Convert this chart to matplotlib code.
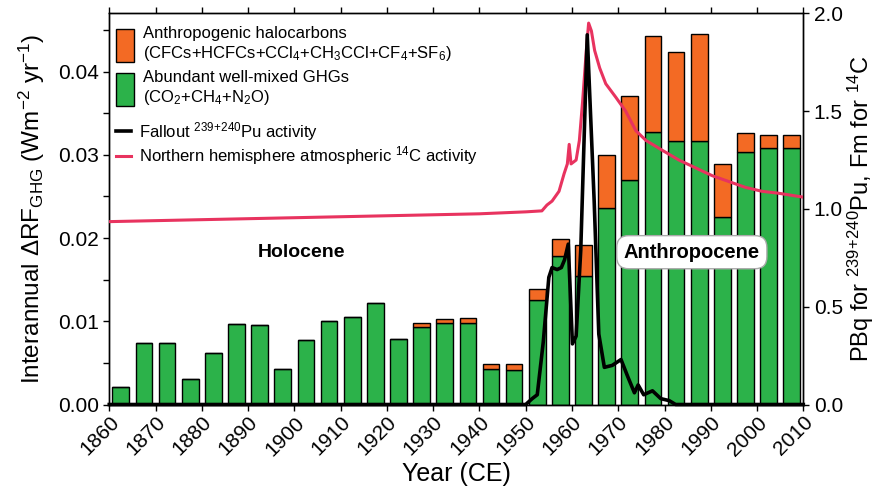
import numpy as np
import matplotlib
matplotlib.use("Agg")
from matplotlib import pyplot as plt
from matplotlib.patches import Patch
from matplotlib.lines import Line2D

plt.rcParams['font.family'] = ['Liberation Sans', 'DejaVu Sans']
plt.rcParams['mathtext.fontset'] = 'custom'
plt.rcParams['mathtext.rm'] = 'Liberation Sans'
plt.rcParams['mathtext.it'] = 'Liberation Sans:italic'
plt.rcParams['mathtext.bf'] = 'Liberation Sans:bold'

# === DATI ===
# 5-year intervals, start year of each bin
bin_start = [1860, 1865, 1870, 1875, 1880, 1885, 1890, 1895, 1900, 1905,
             1910, 1915, 1920, 1925, 1930, 1935, 1940, 1945, 1950, 1955,
             1960, 1965, 1970, 1975, 1980, 1985, 1990, 1995, 2000, 2005]
ghg = [0.0021, 0.0074, 0.0074, 0.0031, 0.0062, 0.0097, 0.0095, 0.0043, 0.0078, 0.0100,
       0.0105, 0.0122, 0.0079, 0.0093, 0.0098, 0.0098, 0.0043, 0.0041, 0.0126, 0.0178,
       0.0155, 0.0236, 0.0270, 0.0328, 0.0317, 0.0317, 0.0225, 0.0303, 0.0308, 0.0308]
total = [0.0021, 0.0074, 0.0074, 0.0031, 0.0062, 0.0097, 0.0095, 0.0043, 0.0078, 0.0100,
         0.0105, 0.0122, 0.0079, 0.0098, 0.0103, 0.0104, 0.0049, 0.0049, 0.0139, 0.0199,
         0.0192, 0.0300, 0.0371, 0.0443, 0.0423, 0.0445, 0.0289, 0.0326, 0.0324, 0.0324]

pu_year = [1860, 1950, 1951.4, 1952.5, 1953.8, 1955.0, 1955.7, 1956.8, 1957.7, 1958.4,
           1959.2, 1960.1, 1960.9, 1961.9, 1963.3, 1964.8, 1965.8, 1967.0, 1968.7, 1970.6,
           1972.1, 1973.5, 1974.3, 1975.5, 1977.4, 1979.2, 1981.0, 1982.4, 2010]
pu_val = [0, 0, 0.03, 0.05, 0.32, 0.65, 0.70, 0.69, 0.70, 0.74,
          0.82, 0.31, 0.35, 0.79, 1.89, 1.04, 0.36, 0.19, 0.20, 0.23,
          0.14, 0.06, 0.10, 0.05, 0.07, 0.03, 0.02, 0, 0]

c14_year = [1860, 1900, 1940, 1950, 1953.5, 1954.6, 1955.7, 1957.2, 1958.3, 1959.0,
            1959.4, 1959.8, 1960.9, 1961.6, 1962.3, 1963.1, 1963.6, 1964.2, 1964.9, 1966.0,
            1967.3, 1969.5, 1971.6, 1973.8, 1976.0, 1979.5, 1983.1, 1986.7, 1990.3, 1993.9,
            1997.5, 2001.1, 2004.7, 2010]
c14_val = [0.935, 0.955, 0.975, 0.985, 0.99, 1.02, 1.04, 1.09, 1.18, 1.23,
           1.33, 1.23, 1.25, 1.35, 1.55, 1.81, 1.95, 1.91, 1.81, 1.72,
           1.64, 1.57, 1.50, 1.40, 1.35, 1.30, 1.25, 1.21, 1.17, 1.14,
           1.11, 1.09, 1.08, 1.06]

year_ticks = list(range(1860, 2011, 10))

GREEN = '#2cb24a'
ORANGE = '#f36a24'
RED = '#e8335f'

# === GRAFICO ===
fig = plt.figure(figsize=(8.79, 4.95), dpi=100)
ax = fig.add_axes([0.1243, 0.1828, 0.7896, 0.7903])

centers = np.array(bin_start) + 2.5
ghg = np.array(ghg)
halo = np.array(total) - ghg
ax.bar(centers, ghg, width=3.6, color=GREEN, edgecolor='black', linewidth=1, zorder=2)
ax.bar(centers, halo, bottom=ghg, width=3.6, color=ORANGE, edgecolor='black', linewidth=1, zorder=2)

ax.set_xlim(1860, 2010)
ax.set_ylim(0, 0.047)
ax.set_xticks(year_ticks)
ax.set_xticklabels([str(y) for y in year_ticks], rotation=45, ha='right', rotation_mode='anchor')
ax.set_yticks([0, 0.01, 0.02, 0.03, 0.04])
ax.set_yticklabels(['0.00', '0.01', '0.02', '0.03', '0.04'])
ax.set_yticks(np.arange(0.005, 0.047, 0.01), minor=True)
ax.tick_params(axis='both', which='both', direction='out', length=4, width=1, labelsize=15)
ax.tick_params(axis='x', top=True, pad=2)
ax.set_xlabel('Year (CE)', fontsize=18, labelpad=2)
ax.set_ylabel('Interannual ΔRF$_{\\mathrm{GHG}}$ (Wm$^{-2}$ yr$^{-1}$)', fontsize=17.5, labelpad=8)

ax.text(1901.6, 0.0183, 'Holocene', fontsize=14, fontweight='bold', ha='center', va='center', zorder=5)
ax.text(1985.9, 0.0183, 'Anthropocene', fontsize=14.5, fontweight='bold', ha='center', va='center', zorder=5,
        bbox=dict(boxstyle='round,pad=0.35,rounding_size=0.6', facecolor='white', edgecolor='#aaaaaa', linewidth=1))

ax2 = ax.twinx()
ax2.plot(c14_year, c14_val, color=RED, linewidth=2.2, zorder=3)
ax2.plot(pu_year, pu_val, color='black', linewidth=2.6, zorder=4, clip_on=False)
ax2.set_ylim(0, 2.0)
ax2.set_yticks([0, 0.5, 1.0, 1.5, 2.0])
ax2.set_yticklabels(['0.0', '0.5', '1.0', '1.5', '2.0'])
ax2.tick_params(axis='y', direction='out', length=4, width=1, labelsize=15)
ax2.set_ylabel('PBq for $^{239\\!+\\!240}$Pu, Fm for $^{14}$C', fontsize=17, labelpad=2)

# legenda
patch_handles = [Patch(facecolor=ORANGE, edgecolor='black', linewidth=1),
                 Patch(facecolor=GREEN, edgecolor='black', linewidth=1)]
patch_labels = ['Anthropogenic halocarbons\n(CFCs+HCFCs+CCl$_4$+CH$_3$CCl+CF$_4$+SF$_6$)',
                'Abundant well-mixed GHGs\n(CO$_2$+CH$_4$+N$_2$O)']
leg1 = ax2.legend(patch_handles, patch_labels, loc='upper left', bbox_to_anchor=(0.0, 0.985),
                  frameon=False, fontsize=12, handleheight=2.7, handlelength=1.1,
                  handletextpad=0.5, labelspacing=0.45, borderaxespad=0.3, borderpad=0.1)
ax2.add_artist(leg1)
line_handles = [Line2D([], [], color='black', linewidth=2.6),
                Line2D([], [], color=RED, linewidth=2.2)]
line_labels = ['Fallout $^{239\\!+\\!240}$Pu activity',
               'Northern hemisphere atmospheric $^{14}$C activity']
ax2.legend(line_handles, line_labels, loc='upper left', bbox_to_anchor=(0.0, 0.745),
           frameon=False, fontsize=12, handlelength=0.9, handletextpad=0.5,
           labelspacing=0.1, borderaxespad=0.3, borderpad=0.1)

for a in (ax, ax2):
    for s in a.spines.values():
        s.set_linewidth(1)

plt.savefig('out.png', dpi=100)
plt.close()
